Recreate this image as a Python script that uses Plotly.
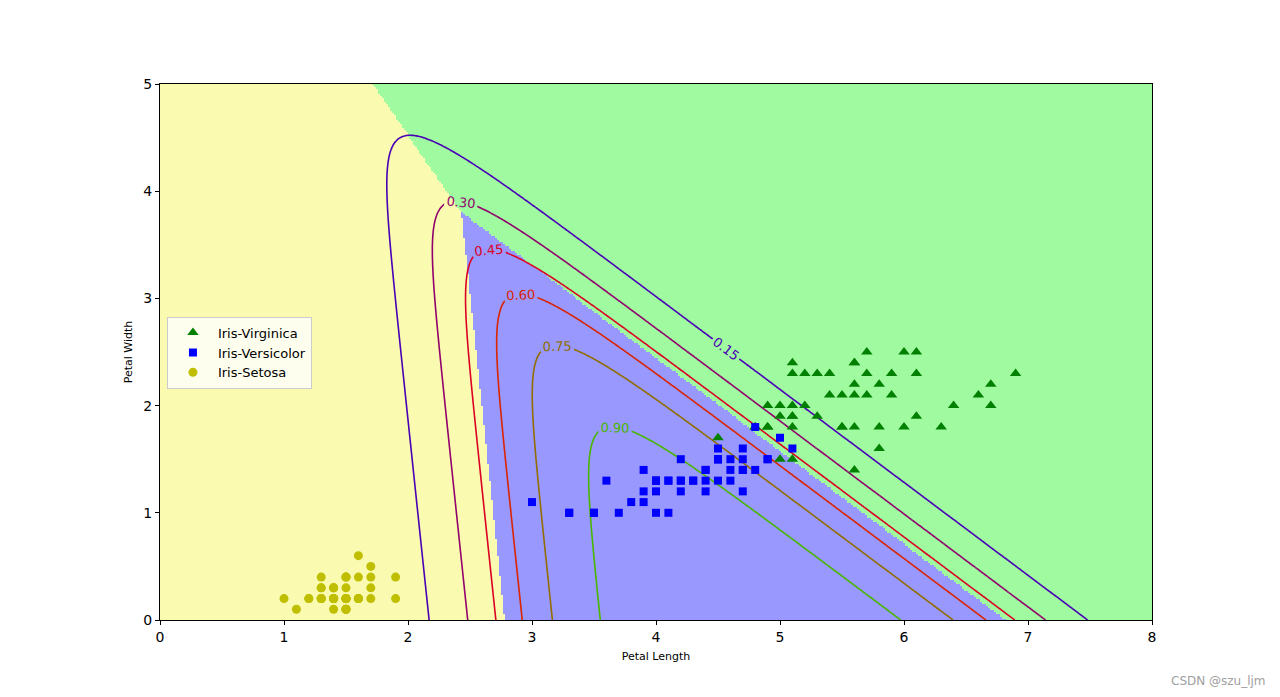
import numpy as np
import plotly.graph_objects as go

# ---- Iris petal measurements (length, width) ----
setosa_len = [1.4,1.4,1.3,1.5,1.4,1.7,1.4,1.5,1.4,1.5,1.5,1.6,1.4,1.1,1.2,1.5,1.3,1.4,1.7,1.5,
              1.7,1.5,1.0,1.7,1.9,1.6,1.6,1.5,1.4,1.6,1.6,1.5,1.5,1.4,1.5,1.2,1.3,1.5,1.3,1.5,
              1.3,1.3,1.3,1.6,1.9,1.4,1.6,1.4,1.5,1.4]
setosa_wid = [0.2,0.2,0.2,0.2,0.2,0.4,0.3,0.2,0.2,0.1,0.2,0.2,0.1,0.1,0.2,0.4,0.4,0.3,0.3,0.3,
              0.2,0.4,0.2,0.5,0.2,0.2,0.4,0.2,0.2,0.2,0.2,0.4,0.1,0.2,0.1,0.2,0.2,0.1,0.2,0.2,
              0.3,0.3,0.2,0.6,0.4,0.3,0.2,0.2,0.2,0.2]
versicolor_len = [4.7,4.5,4.9,4.0,4.6,4.5,4.7,3.3,4.6,3.9,3.5,4.2,4.0,4.7,3.6,4.4,4.5,4.1,4.5,3.9,
                  4.8,4.0,4.9,4.7,4.3,4.4,4.8,5.0,4.5,3.5,3.8,3.7,3.9,5.1,4.5,4.5,4.7,4.4,4.1,4.0,
                  4.4,4.6,4.0,3.3,4.2,4.2,4.2,4.3,3.0,4.1]
versicolor_wid = [1.4,1.5,1.5,1.3,1.5,1.3,1.6,1.0,1.3,1.4,1.0,1.5,1.0,1.4,1.3,1.4,1.5,1.0,1.5,1.1,
                  1.8,1.3,1.5,1.2,1.3,1.4,1.4,1.7,1.5,1.0,1.1,1.0,1.2,1.6,1.5,1.6,1.5,1.3,1.3,1.3,
                  1.2,1.4,1.2,1.0,1.3,1.2,1.3,1.3,1.1,1.3]
virginica_len = [6.0,5.1,5.9,5.6,5.8,6.6,4.5,6.3,5.8,6.1,5.1,5.3,5.5,5.0,5.1,5.3,5.5,6.7,6.9,5.0,
                 5.7,4.9,6.7,4.9,5.7,6.0,4.8,4.9,5.6,5.8,6.1,6.4,5.6,5.1,5.6,6.1,5.6,5.5,4.8,5.4,
                 5.6,5.1,5.1,5.9,5.7,5.2,5.0,5.2,5.4,5.1]
virginica_wid = [2.5,1.9,2.1,1.8,2.2,2.1,1.7,1.8,1.8,2.5,2.0,1.9,2.1,2.0,2.4,2.3,1.8,2.2,2.3,1.5,
                 2.3,2.0,2.0,1.8,2.1,1.8,1.8,1.8,2.1,1.6,1.9,2.0,2.2,1.5,1.4,2.3,2.4,1.8,1.8,2.1,
                 2.4,2.3,1.9,2.3,2.5,2.3,1.9,2.0,2.3,1.8]

# ---- softmax model parameters (estimated from the decision boundaries / contours) ----
class_weights_length = [0.0, 2.85, 5.46]   # setosa, versicolor, virginica
class_weights_width = [0.0, 0.26, 3.27]
class_bias = [0.0, -7.92, -25.71]

contour_levels = [0.15, 0.30, 0.45, 0.60, 0.75, 0.90]
contour_colors = ['#4900b6', '#92006d', '#db0024', '#db2400', '#926d00', '#49b600']
region_colors = ['#fafab0', '#9898ff', '#a0faa0']

# ---- evaluate the model on a grid ----
gx = np.linspace(0, 8, 500)
gy = np.linspace(0, 5, 250)
X0, X1 = np.meshgrid(gx, gy)
scores = np.stack([class_weights_length[k] * X0 + class_weights_width[k] * X1 + class_bias[k]
                   for k in range(3)])
scores -= scores.max(axis=0, keepdims=True)
ex = np.exp(scores)
proba = ex / ex.sum(axis=0, keepdims=True)
pred = np.argmax(proba, axis=0)
p_versicolor = proba[1]

fig = go.Figure()

fig.add_trace(go.Heatmap(
    x=gx, y=gy, z=pred, zmin=0, zmax=2,
    colorscale=[[0, region_colors[0]], [1/3, region_colors[0]],
                [1/3, region_colors[1]], [2/3, region_colors[1]],
                [2/3, region_colors[2]], [1, region_colors[2]]],
    showscale=False, hoverinfo='skip', zsmooth=False))

for lvl, col in zip(contour_levels, contour_colors):
    fig.add_trace(go.Contour(
        x=gx, y=gy, z=p_versicolor,
        autocontour=False,
        contours=dict(start=lvl, end=lvl, size=0.15, coloring='lines',
                      showlabels=True, labelformat='.2f',
                      labelfont=dict(size=13, color=col, family='DejaVu Sans')),
        colorscale=[[0, col], [1, col]],
        line=dict(width=1.6), showscale=False, hoverinfo='skip', showlegend=False))

fig.add_trace(go.Scatter(x=virginica_len, y=virginica_wid, mode='markers', name='Iris-Virginica',
                         marker=dict(symbol='triangle-up', color='#008000', size=10)))
fig.add_trace(go.Scatter(x=versicolor_len, y=versicolor_wid, mode='markers', name='Iris-Versicolor',
                         marker=dict(symbol='square', color='#0000ff', size=8)))
fig.add_trace(go.Scatter(x=setosa_len, y=setosa_wid, mode='markers', name='Iris-Setosa',
                         marker=dict(symbol='circle', color='#bfbf00', size=9)))

axis_common = dict(showline=True, linecolor='black', linewidth=1, mirror=True,
                   ticks='outside', ticklen=4, tickcolor='black', showgrid=False, zeroline=False,
                   tickfont=dict(size=14, color='black', family='DejaVu Sans'))
fig.update_xaxes(range=[0, 8], dtick=1, title=dict(text='Petal Length', font=dict(size=11, color='black'),
                 standoff=8), **axis_common)
fig.update_yaxes(range=[0, 5], dtick=1, title=dict(text='Petal Width', font=dict(size=11, color='black'),
                 standoff=8), **axis_common)

fig.update_layout(
    width=1280, height=697,
    margin=dict(l=152, r=136, t=76, b=85),
    paper_bgcolor='white', plot_bgcolor='white',
    font=dict(family='DejaVu Sans', color='black'),
    legend=dict(x=0.007, y=0.566, xanchor='left', yanchor='top',
                bgcolor='rgba(255,255,255,0.8)', bordercolor='#cccccc', borderwidth=1,
                font=dict(size=13, color='black'), itemwidth=40),
    annotations=[dict(text='CSDN @szu_ljm', xref='paper', yref='paper', x=1.0, y=0.0,
                      xanchor='right', yanchor='middle', xshift=116, yshift=-61, showarrow=False,
                      font=dict(size=12, color='#a0a0a0'))],
)

fig.write_html('out.html')
